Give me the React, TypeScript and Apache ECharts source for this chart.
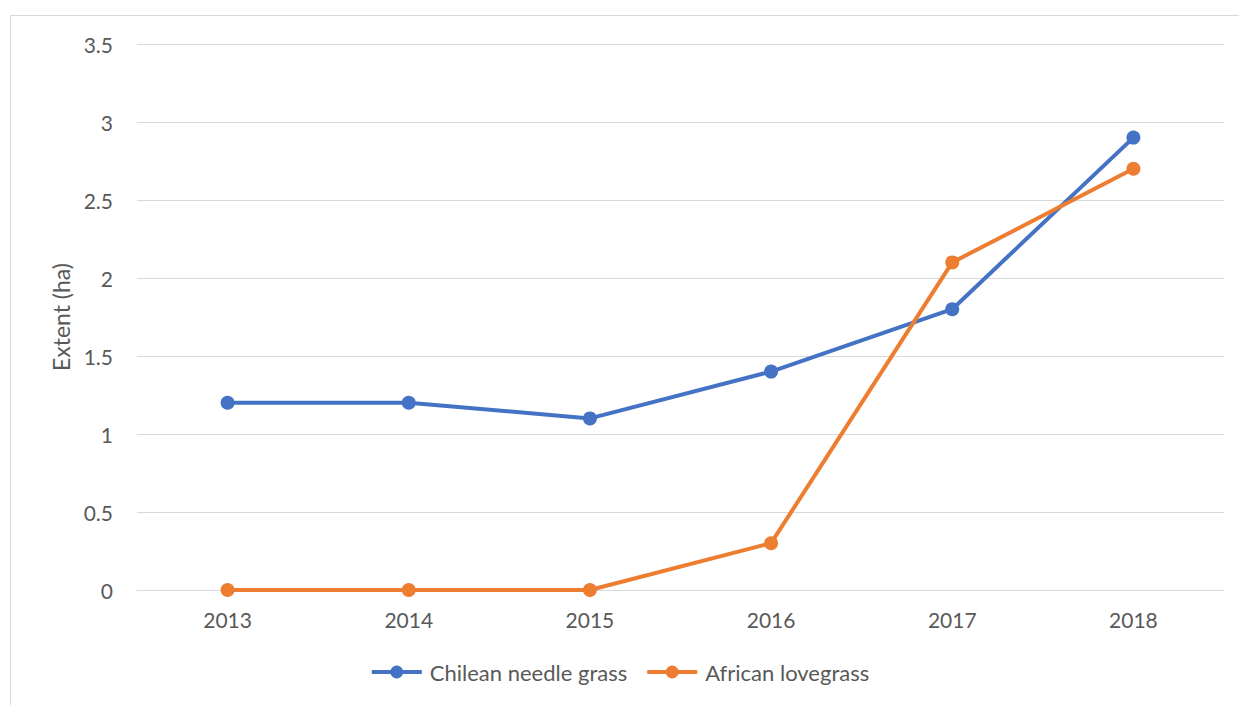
import React, { useEffect, useRef } from "react";
import * as echarts from "echarts";

const years = ["2013", "2014", "2015", "2016", "2017", "2018"];
const chileanNeedleGrass = [1.2, 1.2, 1.1, 1.4, 1.8, 2.9];
const africanLovegrass = [0, 0, 0, 0.3, 2.1, 2.7];

const FONT = "Lato, 'Open Sans', sans-serif";
const TEXT = "#595959";
const GRID = "#d9d9d9";

export default function App() {
  const ref = useRef<HTMLDivElement>(null);

  useEffect(() => {
    if (!ref.current) return;
    const chart = echarts.init(ref.current, undefined, { renderer: "svg" });
    const series = [
      { name: "Chilean needle grass", data: chileanNeedleGrass, color: "#4472C4" },
      { name: "African lovegrass", data: africanLovegrass, color: "#ED7D31" },
    ];
    chart.setOption({
      animation: false,
      backgroundColor: "#ffffff",
      textStyle: { fontFamily: FONT },
      graphic: [
        {
          type: "rect",
          shape: { x: 10.5, y: 15.5, width: 1300, height: 800 },
          style: { fill: "none", stroke: GRID, lineWidth: 1 },
          silent: true,
        },
      ],
      grid: { left: 137, right: 15, top: 44, bottom: 115 },
      legend: {
        bottom: 17,
        left: "center",
        itemWidth: 50,
        itemHeight: 16,
        itemGap: 18,
        lineStyle: { width: 4 },
        textStyle: { color: TEXT, fontSize: 22, fontFamily: FONT, padding: [0, 0, 0, 3] },
        data: series.map((s) => s.name),
      },
      xAxis: {
        type: "category",
        data: years,
        boundaryGap: true,
        axisLine: { lineStyle: { color: GRID, width: 1 } },
        axisTick: { show: false },
        axisLabel: { color: TEXT, fontSize: 21, margin: 19, fontFamily: FONT },
      },
      yAxis: {
        type: "value",
        min: 0,
        max: 3.5,
        interval: 0.5,
        name: "Extent (ha)",
        nameLocation: "middle",
        nameGap: 64,
        nameTextStyle: { color: TEXT, fontSize: 23, fontFamily: FONT },
        axisLine: { show: false },
        axisTick: { show: false },
        axisLabel: { color: TEXT, fontSize: 21, margin: 24, fontFamily: FONT },
        splitLine: { lineStyle: { color: GRID, width: 1 } },
      },
      series: series.map((s) => ({
        name: s.name,
        type: "line",
        data: s.data,
        symbol: "circle",
        symbolSize: 14,
        lineStyle: { color: s.color, width: 4 },
        itemStyle: { color: s.color },
      })),
    });
    return () => chart.dispose();
  }, []);

  return (
    <div
      ref={ref}
      style={{ position: "absolute", left: 0, top: 0, width: 1239, height: 705 }}
    />
  );
}
